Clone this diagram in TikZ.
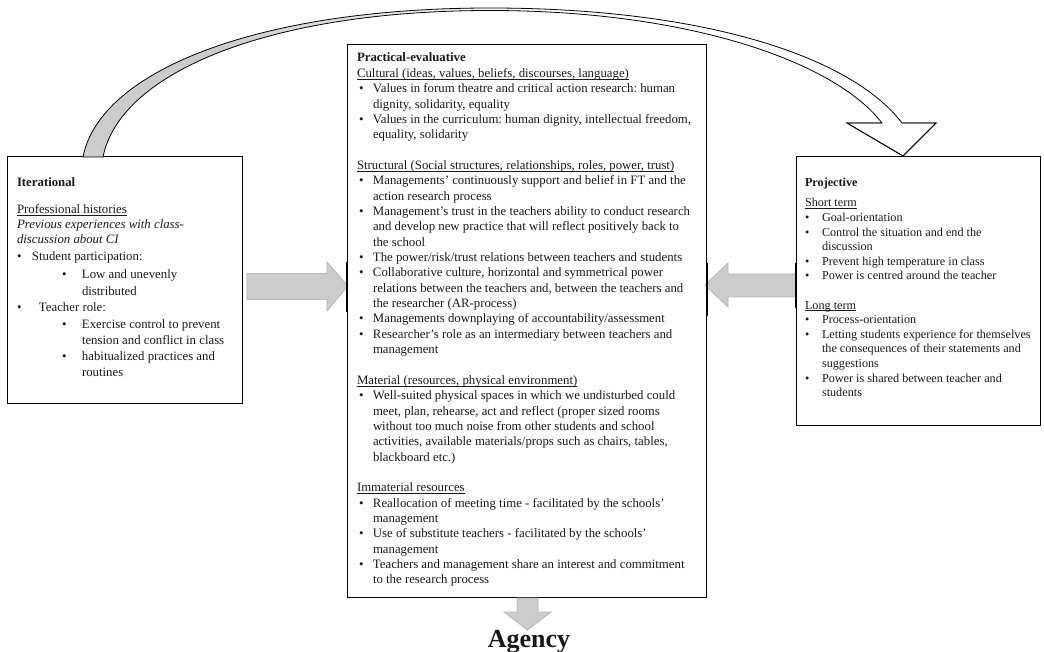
\documentclass[tikz,border=0pt]{standalone}
\usepackage{fontspec}
\setmainfont{Liberation Serif}
\frenchspacing
\definecolor{bandgray}{gray}{0.80}
\definecolor{arrowgray}{gray}{0.80}
\definecolor{arrowedge}{gray}{0.72}
\definecolor{textcol}{gray}{0.10}
\pgfdeclarehorizontalshading{bandshade}{100bp}{color(0bp)=(bandgray); color(33bp)=(bandgray); color(52bp)=(white); color(100bp)=(white)}
\newcommand\Bu[4]{\par\baselineskip=#1pt\noindent\makebox[0pt][l]{\hspace*{#2pt}\textbullet}\hspace*{#3pt}#4}
\newcommand\Tx[3]{\par\baselineskip=#1pt\noindent\hspace*{#2pt}#3}
\newcommand\ulx[1]{\setbox0\hbox{#1}\rlap{\rule[-1.8pt]{\wd0}{0.6pt}}\box0}
\tikzset{
  frame/.style={draw=black, line width=1pt, inner sep=0pt, anchor=north west},
  garrow/.style={fill=arrowgray, draw=arrowedge, line width=0.8pt},
  txt/.style={anchor=base west, inner sep=0pt, outer sep=0pt, text=textcol},
  edgemark/.style={draw=black, line width=2.4pt},
}
\begin{document}
\begin{tikzpicture}[x=1pt,y=-1pt]
\useasboundingbox (0,0) rectangle (1044,652);

% boxes
\node[frame, minimum width=235pt, minimum height=247pt] (iter) at (7,156) {};
\node[frame, minimum width=359pt, minimum height=553pt] (prac) at (347,44) {};
\node[frame, minimum width=244pt, minimum height=269pt] (proj) at (796,156) {};

% curved band arrow
\path[shading=bandshade, draw=black, line width=0.8pt]
  (83,157) .. controls (100,70) and (260,8) .. (490,8)
  .. controls (700,8) and (850,55) .. (902,123)
  -- (936,123) -- (903,156) -- (847,123) -- (882,123)
  .. controls (835,62) and (690,10.5) .. (490,10.5)
  .. controls (270,10.5) and (120,72) .. (103,157) -- cycle;
\fill[white] (904,123.6) -- (934.5,123.6) -- (903,154.5) -- (849,123.6) -- (881,123.6) -- cycle;
\draw[black, line width=0.8pt] (882,123) -- (847,123) -- (903,156) -- (936,123) -- (902,123);

% block arrows
\draw[garrow] (247,273.5) -- (327,273.5) -- (327,262) -- (348,286) -- (327,311) -- (327,299.5) -- (247,299.5) -- cycle;
\draw[garrow] (796,274) -- (728,274) -- (728,263) -- (705,285) -- (728,307) -- (728,297) -- (796,297) -- cycle;
\draw[garrow] (517,598) -- (538,598) -- (538,612) -- (551,612) -- (527.5,630) -- (504,612) -- (517,612) -- cycle;

% heavy marks on the box edges at the arrow tips
\draw[edgemark] (prac.west |- 0,262) -- (prac.west |- 0,312);
\draw[edgemark] (prac.east |- 0,263) -- (prac.east |- 0,316);
\draw[edgemark] (proj.west |- 0,263) -- (proj.west |- 0,308);

% left box text
\node[txt] (itertext) at (17,187) {\begin{minipage}[t]{220pt}\fontsize{12.8}{15.35}\selectfont
\Tx{15}{0}{\textbf{Iterational}}
\Tx{27}{0}{\ulx{Professional histories}}
\Tx{15}{0}{\textit{Previous experiences with class-}}
\Tx{15}{0}{\textit{discussion about CI}}
\Bu{17}{0}{15}{Student participation:}
\Bu{18}{45}{65}{Low and unevenly}
\Tx{17}{65}{distributed}
\Bu{16}{0}{22}{Teacher role:}
\Bu{17}{45}{65}{Exercise control to prevent}
\Tx{15.5}{65}{tension and conflict in class}
\Bu{16.5}{45}{65}{habitualized practices and}
\Tx{16}{65}{routines}
\end{minipage}};

% center box text
\node[txt] (practext) at (357,62) {\begin{minipage}[t]{345pt}\fontsize{12.8}{15.35}\selectfont
\Tx{15.35}{0}{\textbf{Practical-evaluative}}
\Tx{15.35}{0}{\ulx{Cultural (ideas, values, beliefs, discourses, language)}}
\Bu{15.35}{2}{16}{Values in forum theatre and critical action research: human}
\Tx{15.35}{16}{dignity, solidarity, equality}
\Bu{15.35}{2}{16}{Values in the curriculum: human dignity, intellectual freedom,}
\Tx{15.35}{16}{equality, solidarity}
\Tx{15.35}{0}{\mbox{}}
\Tx{15.35}{0}{\ulx{Structural (Social structures, relationships, roles, power, trust)}}
\Bu{15.35}{2}{16}{Managements’ continuously support and belief in FT and the}
\Tx{15.35}{16}{action research process}
\Bu{15.35}{2}{16}{Management’s trust in the teachers ability to conduct research}
\Tx{15.35}{16}{and develop new practice that will reflect positively back to}
\Tx{15.35}{16}{the school}
\Bu{15.35}{2}{16}{The power/risk/trust relations between teachers and students}
\Bu{15.35}{2}{16}{Collaborative culture, horizontal and symmetrical power}
\Tx{15.35}{16}{relations between the teachers and, between the teachers and}
\Tx{15.35}{16}{the researcher (AR-process)}
\Bu{15.35}{2}{16}{Managements downplaying of accountability/assessment}
\Bu{15.35}{2}{16}{Researcher’s role as an intermediary between teachers and}
\Tx{15.35}{16}{management}
\Tx{15.35}{0}{\mbox{}}
\Tx{15.35}{0}{\ulx{Material (resources, physical environment)}}
\Bu{15.35}{2}{16}{Well-suited physical spaces in which we undisturbed could}
\Tx{15.35}{16}{meet, plan, rehearse, act and reflect (proper sized rooms}
\Tx{15.35}{16}{without too much noise from other students and school}
\Tx{15.35}{16}{activities, available materials/props such as chairs, tables,}
\Tx{15.35}{16}{blackboard etc.)}
\Tx{15.35}{0}{\mbox{}}
\Tx{15.35}{0}{\ulx{Immaterial resources}}
\Bu{15.35}{2}{16}{Reallocation of meeting time - facilitated by the schools’}
\Tx{15.35}{16}{management}
\Bu{15.35}{2}{16}{Use of substitute teachers - facilitated by the schools’}
\Tx{15.35}{16}{management}
\Bu{15.35}{2}{16}{Teachers and management share an interest and commitment}
\Tx{15.35}{16}{to the research process}
\end{minipage}};

% right box text
\node[txt] (projtext) at (805,187) {\begin{minipage}[t]{230pt}\fontsize{12.2}{14.6}\selectfont
\Tx{14.6}{0}{\textbf{Projective}}
\Tx{20}{0}{\ulx{Short term}}
\Bu{14.6}{0}{17}{Goal-orientation}
\Bu{14.6}{0}{17}{Control the situation and end the}
\Tx{14.6}{17}{discussion}
\Bu{14.6}{0}{17}{Prevent high temperature in class}
\Bu{14.6}{0}{17}{Power is centred around the teacher}
\Tx{14.6}{0}{\mbox{}}
\Tx{14.6}{0}{\ulx{Long term}}
\Bu{14.6}{0}{17}{Process-orientation}
\Bu{14.6}{0}{17}{Letting students experience for themselves}
\Tx{14.6}{17}{the consequences of their statements and}
\Tx{14.6}{17}{suggestions}
\Bu{14.6}{0}{17}{Power is shared between teacher and}
\Tx{14.6}{17}{students}
\end{minipage}};

% agency label
\node[anchor=base, inner sep=0pt, text=textcol, font=\fontsize{26}{26}\selectfont\bfseries] (agency) at (529,647) {Agency};
\end{tikzpicture}
\end{document}
